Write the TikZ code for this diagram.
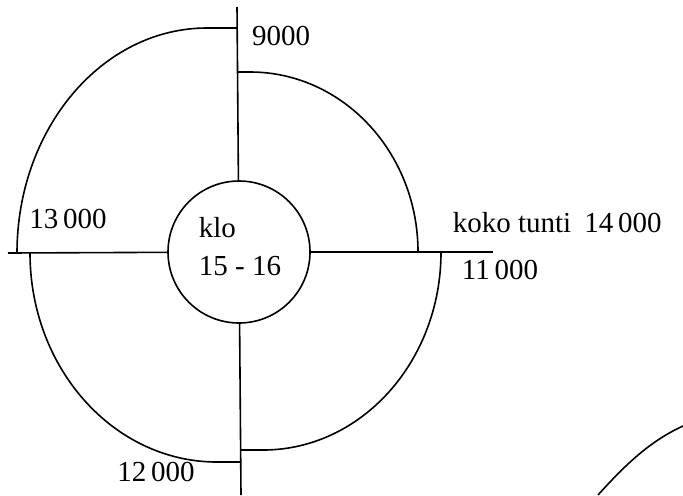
\documentclass[tikz,border=0pt]{standalone}
\usepackage{fontspec}
\setmainfont{Liberation Serif}
\usepackage{tikz}
\usetikzlibrary{positioning}

\begin{document}
\begin{tikzpicture}[x=0.5pt,y=0.5pt,line width=0.8pt,
	  hub/.style={circle,draw,minimum size=71pt,inner sep=0pt},
	  lbl/.style={inner sep=0pt,font=\fontsize{14.5}{19}\selectfont}]
	  \useasboundingbox (0,0) rectangle (683,495);
	  \node[hub] (hour) at (239,243) {};
	  \node[lbl,align=left] (hourtext) at (240,248) {klo\\15 - 16};
	  \coordinate (top) at (237,488);
	  \coordinate (bottom) at (241,0);
	  \coordinate (left) at (8,242);
	  \coordinate (right) at (493,243);
%
	  \path (top) edge (hour)
	    (hour) edge (bottom)
	    (left) edge (hour)
	    (hour) edge (right);
%
	  % quarters
	  \draw (237,467) -- (207,467) arc[start angle=90, end angle=180, x radius=190, y radius=225];
	  \draw (237,423) -- (250,423) arc[start angle=90, end angle=0, x radius=168, y radius=180];
	  \draw (441,243) arc[start angle=0, end angle=-90, x radius=178, y radius=198] -- (241,45);
	  \draw (30,242) arc[start angle=180, end angle=270, x radius=187, y radius=209] -- (241,33);
	  \draw (598,0) .. controls (625,30) and (650,54) .. (683,69);
%
	  \node[lbl] (n9000) at (281,459) {9000};
	  \node[lbl] (n13000) at (68,276) {13\,000};
	  \node[lbl,anchor=base west] (n14000) at (452,263) {koko tunti\hspace{.45em}14\,000};
	  \node[lbl] (n11000) at (500,225) {11\,000};
	  \node[lbl] (n12000) at (156,23) {12\,000};
\end{tikzpicture}
\end{document}
